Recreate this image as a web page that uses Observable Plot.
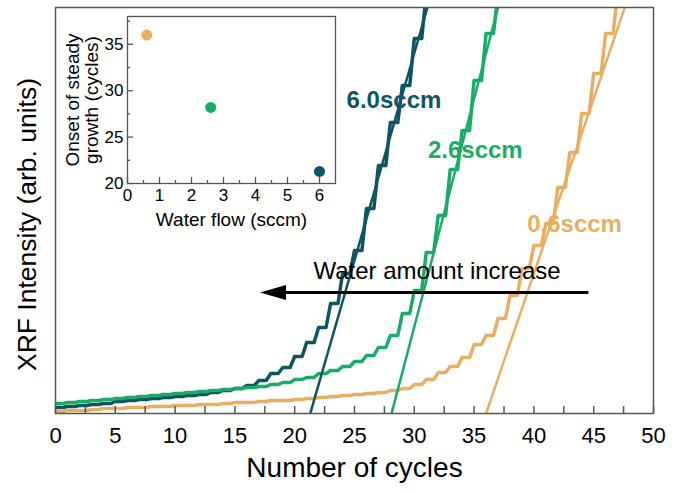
<!DOCTYPE html>
<html><head><meta charset="utf-8">
<script src="https://cdn.jsdelivr.net/npm/d3@7"></script>
<script src="https://cdn.jsdelivr.net/npm/@observablehq/plot@0.6"></script>
<style>
body{margin:0;background:#fff;}
#wrap{position:relative;width:679px;height:493px;}
#main{position:absolute;left:0;top:0;}
#inset{position:absolute;left:60px;top:0;}
</style></head><body>
<div id="wrap"><div id="main"></div><div id="inset"></div></div>
<script>
// ---- data ----
// plateau level of XRF intensity (arb. units) for each cycle 0,1,2,...
const series6p0 = [6,7,8,9,10,12,13,14,15,16,17,18,19,21,23,25,28,33,40,46,57,71,86,110,140,163,205,248,291,328,375,420];
const series2p6 = [10,11,12,13,14,15,16,17,18,19,20,21,22,23,24,25,26,27,29,31,34,36,40,43,47,52,58,66,78,100,123,161,198,244,283,333,380,420];
const series0p6 = [2,3,3,4,5,5,6,6,7,7,8,8,9,9,10,11,11,12,13,13,14,15,16,17,18,19,20,21,23,25,29,34,41,47,56,69,78,95,118,145,168,190,226,261,300,340,380,420];
const seriesNames = ["6.0sccm","2.6sccm","0.6sccm"];
const seriesColors = ["#0d5565","#17ad68","#e8ae62"];
// linear fits: x-intercept (onset) and x where the fit leaves the top of the frame
const fitOnset = [21.3, 28.1, 36.0];
const fitTopX = [31.1, 37.0, 47.6];
const yTop = 406;
// series labels
const labelX = [28.3, 35.1, 43.4];
const labelY = [313, 263, 189];
// arrow
const arrowTip = 17.1, arrowBase = 19.2, arrowTail = 44.6, arrowY = 121;
const arrowText = "Water amount increase", arrowTextX = 31.9, arrowTextY = 142;
// axes
const xTickLabels = [0,5,10,15,20,25,30,35,40,45,50];
const xTickMarks = [0,2.5,5,7.5,10,12.5,15,17.5,20,22.5,25,27.5,30,32.5,35,37.5,40,42.5,45,47.5,50];
// inset
const insetFlow = [0.6, 2.6, 6.0];
const insetOnset = [36.0, 28.2, 21.3];
const insetXTicks = [0,1,2,3,4,5,6];
const insetXMinor = [0.5,1.5,2.5,3.5,4.5,5.5];
const insetYTicks = [20,25,30,35];
const insetYMinor = [22.5,27.5,32.5,37.5];

const font = '"Liberation Sans", Arial, Helvetica, sans-serif';
const frameColor = "#555";
const allSeries = [series6p0, series2p6, series0p6];

// staircase curve: plateau for most of each cycle, then a sloped riser
function rampStep(context) {
  let x0, y0, first = true;
  return {
    areaStart() {}, areaEnd() {},
    lineStart() { first = true; },
    lineEnd() {},
    point(x, y) {
      x = +x; y = +y;
      if (first) { context.moveTo(x, y); first = false; }
      else { context.lineTo(x0 + (x - x0) * 0.62, y0); context.lineTo(x, y); }
      x0 = x; y0 = y;
    }
  };
}

const curveMarks = allSeries.map((s, k) =>
  Plot.line(s.map((v, i) => ({cycle: i, v})), {x: "cycle", y: "v", stroke: seriesColors[k], strokeWidth: 3.5, curve: rampStep, clip: true, strokeLinejoin: "round"})
);
const fitRows = fitOnset.map((o, i) => ({x1: o, y1: 0, x2: fitTopX[i], y2: yTop, c: seriesColors[i]}));
const labelRows = seriesNames.map((n, i) => ({n, x: labelX[i], y: labelY[i], c: seriesColors[i]}));

const headSymbol = {draw(ctx){ ctx.moveTo(0,0); ctx.lineTo(26,-7.5); ctx.lineTo(26,7.5); ctx.closePath(); }};

const main = Plot.plot({
  width: 679, height: 493,
  marginLeft: 55, marginRight: 26, marginTop: 7, marginBottom: 80,
  style: {fontFamily: font, background: "white", overflow: "visible", color: "black"},
  x: {domain: [0, 50]},
  y: {domain: [0, yTop], axis: null},
  color: {type: "identity"},
  marks: [
    ...curveMarks,
    Plot.link(fitRows, {x1: "x1", y1: "y1", x2: "x2", y2: "y2", stroke: "c", strokeWidth: 2.5, clip: true}),
    Plot.ruleY([{y: arrowY}], {y: "y", x1: () => arrowBase, x2: () => arrowTail, stroke: "black", strokeWidth: 3}),
    Plot.dot([{x: arrowTip, y: arrowY}], {x: "x", y: "y", symbol: headSymbol, fill: "black", stroke: "none"}),
    Plot.text([{t: arrowText, x: arrowTextX, y: arrowTextY}], {x: "x", y: "y", text: "t", fontSize: 24, fill: "black"}),
    Plot.text(labelRows, {x: "x", y: "y", text: "n", fill: "c", fontSize: 24, fontWeight: "bold"}),
    Plot.frame({stroke: frameColor, strokeWidth: 1.5}),
    Plot.tickX(xTickMarks, {x: d => d, insetTop: yTop - 7, stroke: frameColor, strokeWidth: 1.5}),
    Plot.axisX({ticks: xTickLabels, tickSize: 0, tickPadding: 14, fontSize: 22, label: null, fill: "black"}),
    Plot.text(["Number of cycles"], {frameAnchor: "bottom", textAnchor: "middle", lineAnchor: "middle", dy: 55, fontSize: 28, fill: "black"}),
    Plot.text(["XRF Intensity (arb. units)"], {frameAnchor: "left", textAnchor: "middle", lineAnchor: "middle", rotate: -90, dx: -28, dy: 14, fontSize: 26.5, fill: "black"})
  ]
});
document.getElementById("main").append(main);

const insetRows = insetFlow.map((f, i) => ({f, o: insetOnset[i], c: seriesColors[2 - i]}));
const inset = Plot.plot({
  width: 290, height: 235,
  marginLeft: 67, marginRight: 15, marginTop: 16, marginBottom: 52,
  style: {fontFamily: font, background: "transparent", overflow: "visible", color: "black"},
  x: {domain: [0, 6.5]},
  y: {domain: [20, 38]},
  color: {type: "identity"},
  marks: [
    Plot.frame({stroke: frameColor, strokeWidth: 1.3}),
    Plot.tickX(insetXTicks, {x: d => d, insetTop: 167 - 6, stroke: frameColor, strokeWidth: 1.3}),
    Plot.tickX(insetXMinor, {x: d => d, insetTop: 167 - 3, stroke: frameColor, strokeWidth: 1.3}),
    Plot.tickY(insetYTicks, {y: d => d, insetRight: 208 - 6, stroke: frameColor, strokeWidth: 1.3}),
    Plot.tickY(insetYMinor, {y: d => d, insetRight: 208 - 3, stroke: frameColor, strokeWidth: 1.3}),
    Plot.axisX({ticks: insetXTicks, tickFormat: d3.format("d"), tickSize: 0, tickPadding: 5, fontSize: 17, label: null, fill: "black"}),
    Plot.axisY({ticks: insetYTicks, tickFormat: d3.format("d"), tickSize: 0, tickPadding: 4, fontSize: 17, label: null, fill: "black"}),
    Plot.dot(insetRows, {x: "f", y: "o", fill: "c", r: 5.5}),
    Plot.text(["Water flow (sccm)"], {frameAnchor: "bottom", textAnchor: "middle", lineAnchor: "middle", dy: 36, fontSize: 19, fill: "black"}),
    Plot.text(["Onset of steady\ngrowth (cycles)"], {frameAnchor: "left", textAnchor: "middle", lineAnchor: "middle", rotate: -90, dx: -45, fontSize: 19, lineHeight: 1.0, fill: "black"})
  ]
});
document.getElementById("inset").append(inset);
</script>
</body></html>
